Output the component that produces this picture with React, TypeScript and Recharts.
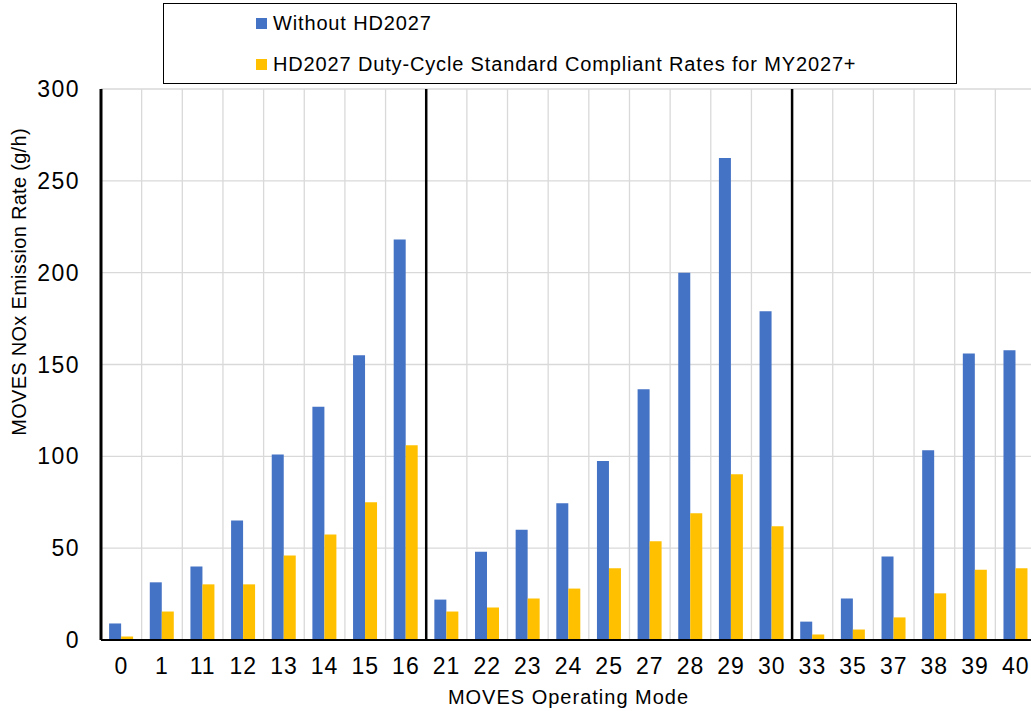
import { Bar, BarChart, CartesianGrid, Legend, ReferenceLine, XAxis, YAxis } from 'recharts';

// MOVES operating modes (x categories)
const modes = ['0', '1', '11', '12', '13', '14', '15', '16', '21', '22', '23', '24', '25', '27', '28', '29', '30', '33', '35', '37', '38', '39', '40'];

// NOx emission rate (g/h)
const withoutHD2027 = [9, 31.4, 40, 65, 101, 127, 155, 218, 22, 48, 60, 74.5, 97.5, 136.5, 200, 262.5, 179, 10, 22.6, 45.5, 103.3, 156, 157.8];
const hd2027 = [1.9, 15.5, 30.3, 30.3, 46, 57.5, 75, 106, 15.5, 17.7, 22.6, 28, 39, 53.7, 69, 90.2, 62, 3, 5.7, 12.3, 25.4, 38.3, 39];

const yTicks = [0, 50, 100, 150, 200, 250, 300];
// group boundaries drawn as heavy black lines (after these modes)
const groupEnds = ['16', '30'];

const seriesNames = ['Without HD2027', 'HD2027 Duty-Cycle Standard Compliant Rates for MY2027+'];
const BLUE = '#4472C4';
const GOLD = '#FFC000';
const FONT = '"Liberation Sans", Arial, sans-serif';

const data = modes.map((mode, i) => ({ mode, base: withoutHD2027[i], std: hd2027[i] }));

function LegendBox() {
  const items = [
    { name: seriesNames[0], color: BLUE },
    { name: seriesNames[1], color: GOLD },
  ];
  return (
    <div
      style={{
        width: 794,
        height: 81,
        boxSizing: 'border-box',
        border: '1.5px solid #000',
        background: '#fff',
        position: 'relative',
        fontFamily: FONT,
        fontSize: 20,
        letterSpacing: 0.85,
        color: '#000',
      }}
    >
      {items.map((it, i) => (
        <div key={it.name} style={{ position: 'absolute', left: 92, top: i === 0 ? 6 : 47, height: 26, display: 'flex', alignItems: 'center' }}>
          <span style={{ display: 'inline-block', width: 11, height: 11, background: it.color, marginRight: 6 }} />
          <span>{it.name}</span>
        </div>
      ))}
    </div>
  );
}

export default function App() {
  return (
    <div style={{ position: 'absolute', left: 0, top: 0, width: 1031, height: 711, overflow: 'hidden', background: '#fff' }}>
      <BarChart
        width={1046}
        height={711}
        data={data}
        margin={{ top: 89, right: 10, left: 0, bottom: 0 }}
        barCategoryGap="20%"
        barGap={0}
      >
        <CartesianGrid
          stroke="#d9d9d9"
          strokeWidth={1.3}
          verticalCoordinatesGenerator={({ offset }: any) =>
            modes.map((_, i) => offset.left + ((i + 1) * offset.width) / modes.length)
          }
        />
        <XAxis
          dataKey="mode"
          height={71}
          interval={0}
          tickLine={false}
          tickSize={0}
          tickMargin={18}
          axisLine={{ stroke: '#000', strokeWidth: 2 }}
          tick={{ fill: '#000', fontSize: 23, fontFamily: FONT, letterSpacing: 1 }}
          label={{
            content: ({ viewBox }: any) => (
              <text
                x={viewBox.x + viewBox.width / 2}
                y={704}
                textAnchor="middle"
                fontSize={20}
                letterSpacing={1}
                fontFamily={FONT}
                fill="#000"
              >
                MOVES Operating Mode
              </text>
            ),
          }}
        />
        <YAxis
          width={101}
          domain={[0, 300]}
          ticks={yTicks}
          interval={0}
          tickLine={false}
          tickSize={0}
          tickMargin={21}
          axisLine={{ stroke: '#000', strokeWidth: 3 }}
          tick={{ fill: '#000', fontSize: 23, fontFamily: FONT, letterSpacing: 1.5 }}
          label={{
            content: () => (
              <text
                x={26}
                y={282}
                transform="rotate(-90, 26, 282)"
                textAnchor="middle"
                fontSize={20}
                letterSpacing={0.3}
                fontFamily={FONT}
                fill="#000"
              >
                MOVES NOx Emission Rate (g/h)
              </text>
            ),
          }}
        />
        <Legend
          verticalAlign="middle"
          align="center"
          content={() => <LegendBox />}
          wrapperStyle={{ position: 'absolute', left: 163, top: 3, width: 794, height: 81 }}
        />
        {groupEnds.map((m) => (
          <ReferenceLine key={m} x={m} position="end" stroke="#000" strokeWidth={2.5} ifOverflow="visible" />
        ))}
        <Bar dataKey="base" name={seriesNames[0]} fill={BLUE} isAnimationActive={false} />
        <Bar dataKey="std" name={seriesNames[1]} fill={GOLD} isAnimationActive={false} />
      </BarChart>
    </div>
  );
}
